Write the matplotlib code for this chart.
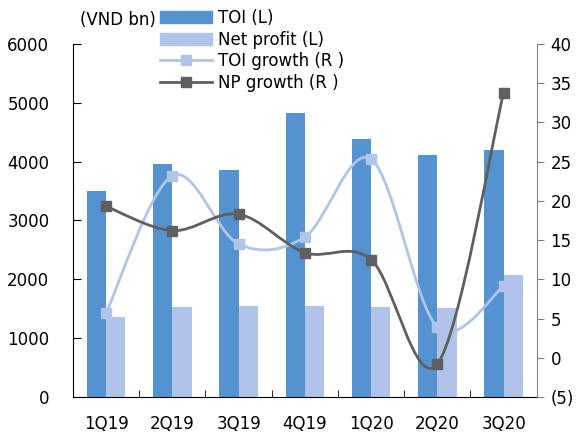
import matplotlib

matplotlib.use("Agg")

import matplotlib.pyplot as plt
import numpy as np
from matplotlib.lines import Line2D
from matplotlib.patches import Patch, PathPatch
from matplotlib.path import Path
from matplotlib.ticker import FuncFormatter, MultipleLocator

quarters = ["1Q19", "2Q19", "3Q19", "4Q19", "1Q20", "2Q20", "3Q20"]
toi = [3500, 3960, 3860, 4830, 4390, 4110, 4200]
net_profit = [1355, 1525, 1540, 1540, 1530, 1515, 2065]
toi_growth = [5.7, 23.2, 14.5, 15.4, 25.3, 3.9, 9.1]
np_growth = [19.3, 16.2, 18.3, 13.4, 12.5, -0.8, 33.8]

C_TOI = "#5592D0"
C_NP = "#AFC4E8"
C_NPG = "#5F5F5F"
FS = 12


def smooth_path(xs, ys):
    """Bezier path through the points, Excel-style smoothing."""
    pts = np.column_stack([xs, ys]).astype(float)
    n = len(pts)
    verts = [pts[0]]
    codes = [Path.MOVETO]
    for i in range(n - 1):
        p_prev = pts[max(i - 1, 0)]
        p0, p1 = pts[i], pts[i + 1]
        p_next = pts[min(i + 2, n - 1)]
        c1 = p0 + (p1 - p_prev) / 6.0
        c2 = p1 - (p_next - p0) / 6.0
        verts += [c1, c2, p1]
        codes += [Path.CURVE4] * 3
    return Path(verts, codes)


fig = plt.figure(figsize=(5.79, 4.37), dpi=100)
ax = fig.add_axes([0.126, 0.0915, 0.801, 0.808])
ax2 = ax.twinx()

x = np.arange(len(quarters))
w = 0.29
ax.bar(x - w / 2, toi, width=w, color=C_TOI, zorder=2)
ax.bar(x + w / 2, net_profit, width=w, color=C_NP, zorder=2)

for vals, color in [(toi_growth, C_NP), (np_growth, C_NPG)]:
    ax2.add_patch(PathPatch(smooth_path(x, vals), fill=False, edgecolor=color,
                            linewidth=2.0, capstyle="round", zorder=3))
    ax2.plot(x, vals, linestyle="none", marker="s", markersize=7,
             color=color, zorder=4)

ax.set_xlim(-0.5, len(quarters) - 0.5)
ax.set_ylim(0, 6000)
ax2.set_ylim(-5, 40)

ax.set_xticks(x)
ax.set_xticklabels(quarters)
ax.set_xticks(np.arange(-0.5, len(quarters)), minor=True)
ax.tick_params(axis="x", which="major", length=0, pad=13, labelsize=FS)
ax.tick_params(axis="x", which="minor", direction="in", length=5)
ax.yaxis.set_major_locator(MultipleLocator(1000))
ax.tick_params(axis="y", direction="in", length=6, pad=17, labelsize=FS)

ax2.yaxis.set_major_locator(MultipleLocator(5))
ax2.yaxis.set_major_formatter(
    FuncFormatter(lambda v, _: f"({abs(v):.0f})" if v < 0 else f"{v:.0f}"))
ax2.tick_params(axis="y", direction="out", length=5, pad=5, labelsize=FS,
                color="#808080")

for a in (ax, ax2):
    a.spines["top"].set_visible(False)
ax.spines["right"].set_visible(False)
ax2.spines["left"].set_visible(False)
ax2.spines["bottom"].set_visible(False)
ax2.spines["right"].set_color("#808080")

fig.text(80 / 579, 1 - 20 / 437, "(VND bn)", fontsize=FS, va="center", ha="left")

handles = [
    Patch(color=C_TOI),
    Patch(color=C_NP),
    Line2D([], [], color=C_NP, lw=2.0, marker="s", markersize=7),
    Line2D([], [], color=C_NPG, lw=2.0, marker="s", markersize=7),
]
labels = ["TOI (L)", "Net profit (L)", "TOI growth (R )", "NP growth (R )"]
fig.legend(handles, labels, loc="upper left",
           bbox_to_anchor=(160 / 579, 1 - 9 / 437), frameon=False,
           fontsize=FS, handlelength=3.1, handletextpad=0.35,
           labelspacing=0.22, borderpad=0, borderaxespad=0)

fig.savefig("out.png", dpi=100)
